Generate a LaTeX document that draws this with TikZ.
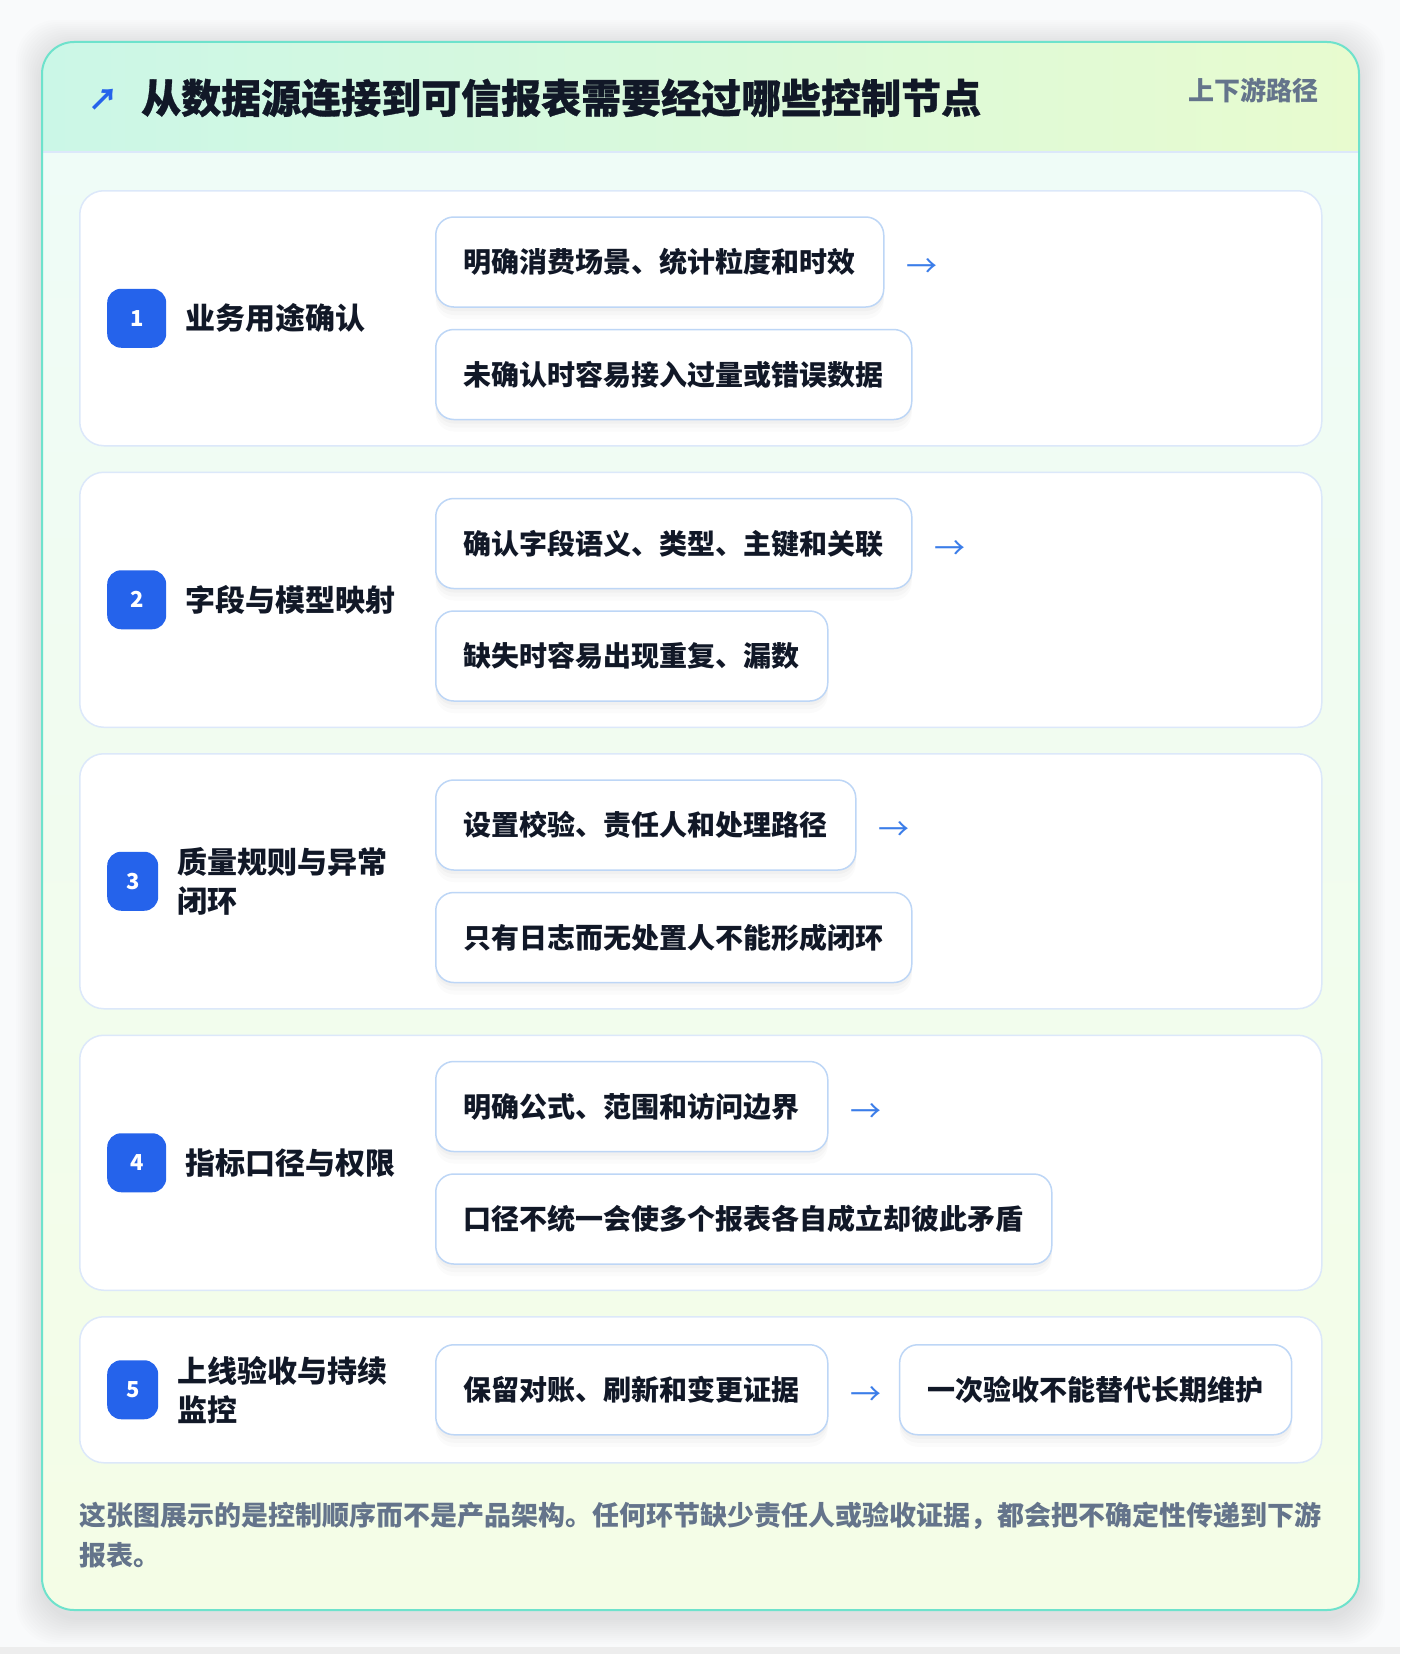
\documentclass[tikz,border=0pt]{standalone}
\usepackage{fontspec}
\setmainfont{Noto Sans CJK SC}
\newfontfamily\heavy{Noto Sans CJK SC}[BoldFeatures={FakeBold=0.8}]
\usetikzlibrary{positioning,shadows}
\definecolor{pagebg}{HTML}{F9FAFB}
\definecolor{rim}{HTML}{6EE2CC}
\definecolor{hdrL}{HTML}{CBF7E7}
\definecolor{hdrR}{HTML}{E8FBCF}
\definecolor{bodyT}{HTML}{EFFCF7}
\definecolor{bodyB}{HTML}{F4FDE6}
\definecolor{rowline}{HTML}{DCE8FA}
\definecolor{boxline}{HTML}{BDD6F6}
\definecolor{accent}{HTML}{2563EB}
\definecolor{flowblue}{HTML}{3B7DE9}
\definecolor{ink}{HTML}{111827}
\definecolor{muted}{HTML}{64748B}
\tikzset{rowcard/.style={draw=rowline, line width=1.5pt, fill=white, rounded corners=24pt, minimum width=1242pt, minimum height=255pt, anchor=north west}}
\tikzset{badge/.style={fill=accent, text=white, rounded corners=14pt, minimum width=59pt, minimum height=59pt, inner sep=0pt, font=\bfseries\fontsize{22}{22}\selectfont}}
\tikzset{rowtitle/.style={text=ink, inner sep=0pt, anchor=west, align=left, font=\bfseries\fontsize{30}{39}\selectfont}}
\tikzset{stepbox/.style={draw=boxline, line width=1.5pt, fill=white, rounded corners=18pt, minimum height=90pt, inner xsep=28pt, inner ysep=0pt, text=ink, font=\bfseries\fontsize{28}{28}\selectfont,
	drop shadow={shadow xshift=0pt, shadow yshift=-4pt, opacity=0.025, fill=black},
	drop shadow={shadow xshift=0pt, shadow yshift=-8pt, opacity=0.02, fill=black},
	drop shadow={shadow xshift=0pt, shadow yshift=-12pt, opacity=0.015, fill=black}}}
\tikzset{flow/.style={text=flowblue, inner sep=0pt, yshift=-6pt, font=\fontsize{31}{31}\selectfont}}

\begin{document}
\begin{tikzpicture}[x=1pt, y=-1pt]
	\useasboundingbox (0,0) rectangle (1400,1654);
	\fill[pagebg] (0,0) rectangle (1400,1654);
	\fill[black!7] (0,1647) rectangle (1400,1654);

	% card
	\foreach \s in {2,4,...,26}
		\fill[black, opacity=0.006, rounded corners=40pt] (42-\s,46-\s) rectangle (1359+\s,1618+\s);
	\begin{scope}
		\clip[rounded corners=32pt] (42,42) rectangle (1359,1610);
		\shade[left color=hdrL, right color=hdrR] (42,42) rectangle (1359,152);
		\shade[top color=bodyT, bottom color=bodyB] (42,152) rectangle (1359,1610);
	\end{scope}
	\draw[rowline, line width=1.5pt] (42,152) -- (1359,152);
	\draw[rim, line width=2pt, rounded corners=32pt] (42,42) rectangle (1359,1610);

	\node [text=accent, inner sep=0pt, font=\bfseries\fontsize{30}{30}\selectfont]	(icon) at (103,100) {↗};
	\node [anchor=west, inner sep=0pt, text=ink, font=\heavy\bfseries\fontsize{40}{40}\selectfont]	(head) at (141,98) {从数据源连接到可信报表需要经过哪些控制节点};
	\node [anchor=east, inner sep=0pt, text=muted, font=\bfseries\fontsize{26}{26}\selectfont]	(tag) at (1319,90) {上下游路径};

	% 1
	\node [rowcard]												(r1) at (79,190) {};
	\node [badge, anchor=west]									(b1) at ([xshift=28pt]r1.west) {1};
	\node [rowtitle, right=19pt of b1]							(t1) {业务用途确认};
	\node [stepbox, anchor=south west]							(s1a) at ([xshift=356pt, yshift=10.5pt]r1.west) {明确消费场景、统计粒度和时效};
	\node [stepbox, anchor=north west]							(s1b) at ([yshift=-21pt]s1a.south west) {未确认时容易接入过量或错误数据};
	\node [flow, right=22pt of s1a]								(f1) {→};

	% 2
	\node [rowcard]												(r2) at (79,471.5) {};
	\node [badge, anchor=west]									(b2) at ([xshift=28pt]r2.west) {2};
	\node [rowtitle, right=19pt of b2]							(t2) {字段与模型映射};
	\node [stepbox, anchor=south west]							(s2a) at ([xshift=356pt, yshift=10.5pt]r2.west) {确认字段语义、类型、主键和关联};
	\node [stepbox, anchor=north west]							(s2b) at ([yshift=-21pt]s2a.south west) {缺失时容易出现重复、漏数};
	\node [flow, right=22pt of s2a]								(f2) {→};

	% 3
	\node [rowcard]												(r3) at (79,753) {};
	\node [badge, anchor=west, minimum width=51pt]				(b3) at ([xshift=28pt]r3.west) {3};
	\node [rowtitle, right=19pt of b3]							(t3) {质量规则与异常\\闭环};
	\node [stepbox, anchor=south west]							(s3a) at ([xshift=356pt, yshift=10.5pt]r3.west) {设置校验、责任人和处理路径};
	\node [stepbox, anchor=north west]							(s3b) at ([yshift=-21pt]s3a.south west) {只有日志而无处置人不能形成闭环};
	\node [flow, right=22pt of s3a]								(f3) {→};

	% 4
	\node [rowcard]												(r4) at (79,1034.5) {};
	\node [badge, anchor=west]									(b4) at ([xshift=28pt]r4.west) {4};
	\node [rowtitle, right=19pt of b4]							(t4) {指标口径与权限};
	\node [stepbox, anchor=south west]							(s4a) at ([xshift=356pt, yshift=10.5pt]r4.west) {明确公式、范围和访问边界};
	\node [stepbox, anchor=north west]							(s4b) at ([yshift=-21pt]s4a.south west) {口径不统一会使多个报表各自成立却彼此矛盾};
	\node [flow, right=22pt of s4a]								(f4) {→};

	% 5
	\node [rowcard, minimum height=146pt]						(r5) at (79,1316) {};
	\node [badge, anchor=west, minimum width=51pt]				(b5) at ([xshift=28pt]r5.west) {5};
	\node [rowtitle, right=19pt of b5]							(t5) {上线验收与持续\\监控};
	\node [stepbox, anchor=west]								(s5a) at ([xshift=356pt]r5.west) {保留对账、刷新和变更证据};
	\node [flow, right=22pt of s5a]								(f5) {→};
	\node [stepbox, right=17pt of f5, yshift=6pt]				(s5b) {一次验收不能替代长期维护};

	\node [anchor=north west, inner sep=0pt, align=left, text=muted, font=\bfseries\fontsize{27}{40}\selectfont]	(note) at (79,1502) {这张图展示的是控制顺序而不是产品架构。任何环节缺少责任人或验收证据，都会把不确定性传递到下游\\报表。};
\end{tikzpicture}
\end{document}
